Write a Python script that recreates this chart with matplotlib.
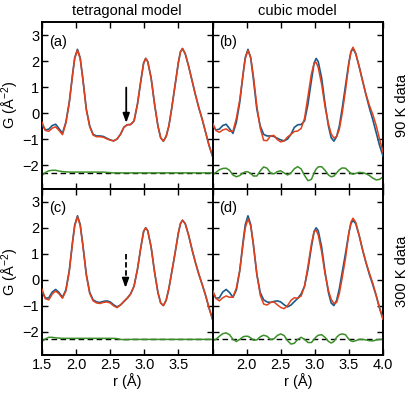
import numpy as np
import matplotlib
matplotlib.use("Agg")
import matplotlib.pyplot as plt

plt.rcParams['font.family'] = ['Liberation Sans', 'DejaVu Sans']
plt.rcParams['mathtext.default'] = 'regular'

# r grid (Angstrom)
r = [1.50, 1.55, 1.60, 1.65, 1.70, 1.75, 1.80, 1.85, 1.90, 1.95, 1.98, 2.02, 2.06, 2.10, 2.15,
     2.20, 2.25, 2.30, 2.35, 2.40, 2.45, 2.50, 2.55, 2.60, 2.65, 2.70, 2.75, 2.80, 2.85, 2.90,
     2.95, 2.99, 3.02, 3.05, 3.10, 3.15, 3.20, 3.24, 3.28, 3.32, 3.36, 3.40, 3.45, 3.50, 3.53,
     3.56, 3.60, 3.65, 3.70, 3.75, 3.80, 3.85, 3.90, 3.95, 4.00]

# measured G(r) at 90 K
data_90K = [-0.45, -0.65, -0.62, -0.48, -0.43, -0.60, -0.78, -0.35, 0.42, 1.53, 2.13, 2.45, 2.12, 1.30, 0.15,
            -0.50, -0.82, -0.88, -0.88, -0.90, -0.97, -1.03, -1.07, -1.00, -0.82, -0.55, -0.45, -0.44, -0.30, 0.35,
            1.25, 1.92, 2.10, 1.98, 1.35, 0.35, -0.50, -0.95, -1.08, -0.90, -0.50, 0.15, 1.05, 1.95, 2.35,
            2.48, 2.28, 1.80, 1.25, 0.70, 0.20, -0.25, -0.75, -1.25, -1.65]

# measured G(r) at 300 K
data_300K = [-0.45, -0.72, -0.70, -0.48, -0.38, -0.50, -0.68, -0.40, 0.35, 1.50, 2.10, 2.45, 2.12, 1.32, 0.20,
             -0.50, -0.78, -0.86, -0.88, -0.84, -0.82, -0.86, -0.97, -1.05, -0.98, -0.85, -0.72, -0.55, -0.25, 0.40,
             1.25, 1.85, 1.99, 1.88, 1.25, 0.30, -0.50, -0.90, -1.00, -0.80, -0.35, 0.25, 1.00, 1.80, 2.15,
             2.28, 2.15, 1.70, 1.15, 0.65, 0.20, -0.20, -0.62, -1.10, -1.52]

# difference curves (data - fit), shown with an offset
diff_offset = -2.3
diff_a = [-2.40, -2.28, -2.22, -2.20, -2.20, -2.23, -2.25, -2.26, -2.27, -2.27, -2.27, -2.27, -2.27, -2.27, -2.27,
          -2.27, -2.27, -2.27, -2.27, -2.27, -2.28, -2.29, -2.30, -2.30, -2.30, -2.30, -2.30, -2.30, -2.30, -2.30,
          -2.30, -2.30, -2.30, -2.30, -2.30, -2.30, -2.30, -2.30, -2.30, -2.30, -2.30, -2.30, -2.30, -2.30, -2.30,
          -2.30, -2.30, -2.30, -2.30, -2.30, -2.30, -2.30, -2.30, -2.30, -2.30]
diff_b = [-2.38, -2.28, -2.18, -2.13, -2.12, -2.20, -2.38, -2.45, -2.40, -2.30, -2.26, -2.26, -2.32, -2.42, -2.42,
          -2.22, -2.07, -2.12, -2.30, -2.34, -2.25, -2.22, -2.30, -2.38, -2.30, -2.14, -2.06, -2.15, -2.40, -2.60,
          -2.55, -2.30, -2.15, -2.07, -2.06, -2.20, -2.38, -2.45, -2.42, -2.30, -2.18, -2.11, -2.12, -2.25, -2.32,
          -2.35, -2.32, -2.28, -2.29, -2.33, -2.40, -2.50, -2.57, -2.55, -2.45]
diff_c = [-2.38, -2.28, -2.22, -2.22, -2.24, -2.25, -2.26, -2.26, -2.26, -2.26, -2.26, -2.26, -2.26, -2.26, -2.26,
          -2.26, -2.26, -2.26, -2.26, -2.26, -2.26, -2.26, -2.26, -2.27, -2.30, -2.31, -2.31, -2.30, -2.30, -2.30,
          -2.30, -2.30, -2.30, -2.30, -2.30, -2.30, -2.30, -2.30, -2.30, -2.30, -2.30, -2.30, -2.30, -2.30, -2.30,
          -2.30, -2.30, -2.30, -2.30, -2.30, -2.30, -2.30, -2.30, -2.30, -2.30]
diff_d = [-2.35, -2.30, -2.18, -2.08, -2.05, -2.12, -2.30, -2.38, -2.30, -2.20, -2.18, -2.18, -2.24, -2.33, -2.32,
          -2.20, -2.14, -2.18, -2.30, -2.28, -2.15, -2.09, -2.15, -2.35, -2.48, -2.45, -2.30, -2.22, -2.30, -2.42,
          -2.42, -2.30, -2.20, -2.14, -2.12, -2.22, -2.38, -2.44, -2.38, -2.22, -2.12, -2.09, -2.12, -2.30, -2.36,
          -2.38, -2.35, -2.30, -2.30, -2.32, -2.35, -2.36, -2.32, -2.30, -2.30]

col_titles = ["tetragonal model", "cubic model"]
row_titles = ["90 K data", "300 K data"]
panel_tags = ["(a)", "(b)", "(c)", "(d)"]
xticks = [1.5, 2.0, 2.5, 3.0, 3.5, 4.0]
yticks = [-2, -1, 0, 1, 2, 3]

C_DATA = '#1c5a8a'
C_FIT = '#e2401a'
C_DIFF = '#3a8f28'

rr = np.array(r)
panels = [
    (np.array(data_90K), np.array(diff_a)),
    (np.array(data_90K), np.array(diff_b)),
    (np.array(data_300K), np.array(diff_c)),
    (np.array(data_300K), np.array(diff_d)),
]

fig = plt.figure(figsize=(4.15, 3.94), dpi=100)
fig.subplots_adjust(left=42/415, right=383/415, top=1-22/394, bottom=1-355/394,
                    wspace=0, hspace=0)
axes = fig.subplots(2, 2)

for k, ax in enumerate(axes.flat):
    i, j = divmod(k, 2)
    obs, diff = panels[k]
    fit = obs - (diff - diff_offset)
    ax.axhline(diff_offset, color='black', lw=1.0, ls=(0, (4, 2.5)), zorder=1)
    ax.plot(rr, diff, color=C_DIFF, lw=1.1, zorder=2)
    ax.plot(rr, obs, color=C_DATA, lw=1.2, zorder=3)
    ax.plot(rr, fit, color=C_FIT, lw=1.1, zorder=4)
    ax.set_xlim(1.5, 4.0)
    ax.set_ylim(-2.9, 3.5)
    ax.set_xticks(xticks)
    ax.set_yticks(yticks)
    ax.tick_params(direction='in', length=4, width=1.0, top=True, right=True,
                   labelsize=10.5, pad=2)
    for sp in ax.spines.values():
        sp.set_linewidth(1.4)
    ax.text(1.6, 2.75, panel_tags[k], fontsize=10.5, ha='left', va='center')
    if j == 0:
        ax.set_ylabel('G (Å$^{-2}$)', fontsize=10.5, labelpad=1)
    else:
        ax.set_yticklabels([])
    if i == 1:
        labs = [f"{t:.1f}" for t in xticks]
        if j == 0:
            labs[-1] = ''
        else:
            labs[0] = ''
        ax.set_xticklabels(labs)
        ax.set_xlabel('r (Å)', fontsize=10.5, labelpad=1)
    else:
        ax.set_xticklabels([])
    if i == 0:
        ax.set_title(col_titles[j], fontsize=10.5, pad=5)
    if j == 1:
        ax.text(1.11, 0.5, row_titles[i], transform=ax.transAxes, rotation=90,
                ha='center', va='center', fontsize=10.5)

head = dict(arrowstyle='-|>,head_length=0.55,head_width=0.2',
            color='black', lw=1.3, shrinkA=0, shrinkB=0)
# solid arrow (a)
axes[0, 0].annotate('', xy=(2.735, -0.38), xytext=(2.735, 0.98), arrowprops=head)
# dashed arrow (c): dashed shaft plus solid head
axes[1, 0].plot([2.725, 2.725], [0.98, -0.05], color='black', lw=1.3,
                ls=(0, (3, 1.5)))
axes[1, 0].annotate('', xy=(2.725, -0.32), xytext=(2.725, -0.02), arrowprops=head)

fig.savefig('out.png', dpi=100)
